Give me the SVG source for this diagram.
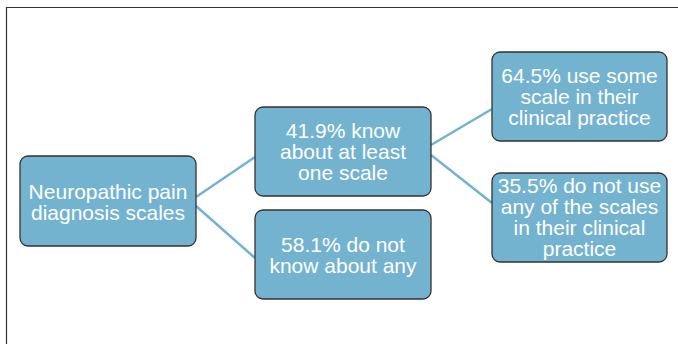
<svg xmlns="http://www.w3.org/2000/svg" width="678" height="344" viewBox="0 0 678 344">
<style>
.box{fill:#74b3cf;stroke:#333;stroke-width:1.3}
.lbl{font-family:"Liberation Sans",Arial,sans-serif;font-size:21px;fill:#fff;text-anchor:middle}
.conn{stroke:#74b3cf;stroke-width:2.5;fill:none}
</style>
<rect width="678" height="344" fill="#fff"/>
<path d="M6.5,344 V7.5 H678" fill="none" stroke="#333" stroke-width="1.2"/>
<g id="connectors">
<line class="conn" x1="196" y1="197" x2="255" y2="157"/>
<line class="conn" x1="196" y1="206" x2="255" y2="258"/>
<line class="conn" x1="431" y1="145" x2="492" y2="109"/>
<line class="conn" x1="431" y1="155" x2="492" y2="203"/>
</g>
<g id="root">
<rect class="box" x="20" y="156" width="176" height="90" rx="8"/>
<text class="lbl" x="108" y="199">Neuropathic pain</text>
<text class="lbl" x="108" y="220">diagnosis scales</text>
</g>
<g id="know">
<rect class="box" x="255" y="107" width="176" height="89" rx="8"/>
<text class="lbl" x="343" y="138">41.9% know</text>
<text class="lbl" x="343" y="159">about at least</text>
<text class="lbl" x="343" y="180">one scale</text>
</g>
<g id="notknow">
<rect class="box" x="255" y="210" width="176" height="89" rx="8"/>
<text class="lbl" x="343" y="252">58.1% do not</text>
<text class="lbl" x="343" y="273">know about any</text>
</g>
<g id="use">
<rect class="box" x="492" y="52" width="175" height="89" rx="8"/>
<text class="lbl" x="579.5" y="83">64.5% use some</text>
<text class="lbl" x="579.5" y="104">scale in their</text>
<text class="lbl" x="579.5" y="125">clinical practice</text>
</g>
<g id="notuse">
<rect class="box" x="492" y="173" width="175" height="89" rx="8"/>
<text class="lbl" x="579.5" y="193">35.5% do not use</text>
<text class="lbl" x="579.5" y="214">any of the scales</text>
<text class="lbl" x="579.5" y="235">in their clinical</text>
<text class="lbl" x="579.5" y="256">practice</text>
</g>
</svg>
